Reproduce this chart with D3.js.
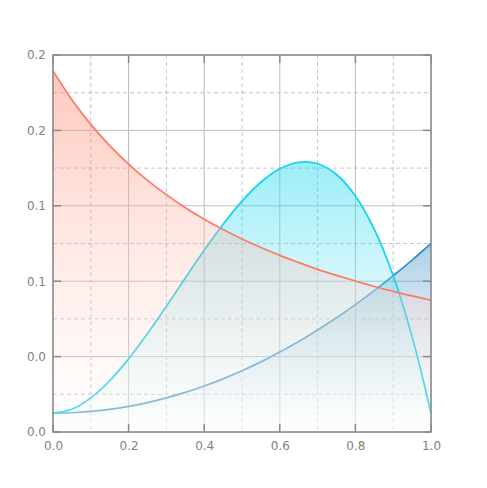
<!DOCTYPE html>
<html><head><meta charset="utf-8">
<script src="https://cdn.jsdelivr.net/npm/d3@7"></script>
<style>body{margin:0;background:#fff}svg{display:block}text{font-family:"DejaVu Sans",sans-serif}</style>
</head><body><svg id="c" width="487" height="488"></svg>
<script>
const xs = [0,0.05,0.1,0.15,0.2,0.25,0.3,0.35,0.4,0.45,0.5,0.55,0.6,0.65,0.7,0.75,0.8,0.85,0.9,0.95,1.0];
const redVals  = [0.1916,0.1763,0.1632,0.1519,0.1421,0.1335,0.1259,0.1190,0.1129,0.1074,0.1024,0.0979,0.0937,0.0899,0.0863,0.0831,0.0801,0.0772,0.0746,0.0722,0.0699];
const cyanVals = [0.0100,0.0121,0.0181,0.0272,0.0388,0.0522,0.0667,0.0817,0.0964,0.1102,0.1225,0.1325,0.1396,0.1431,0.1423,0.1366,0.1252,0.1075,0.0829,0.0506,0.0100];
const blueVals = [0.0100,0.0102,0.0109,0.0120,0.0136,0.0156,0.0181,0.0210,0.0244,0.0282,0.0325,0.0372,0.0424,0.0480,0.0541,0.0606,0.0676,0.0750,0.0829,0.0912,0.1000];
const seriesNames = ["blue","cyan","red"];
const seriesColors = ["#3a90c4","#10d4ee","#ff7a62"];
const xMajor = [0,0.2,0.4,0.6,0.8,1.0];
const xMinor = [0.1,0.3,0.5,0.7,0.9];
const yMajor = [0,0.04,0.08,0.12,0.16,0.2];
const yMinor = [0.02,0.06,0.10,0.14,0.18];
const xLabels = ["0.0","0.2","0.4","0.6","0.8","1.0"];
const yLabels = ["0.0","0.0","0.1","0.1","0.2","0.2"];

const svg = d3.select("#c");
const L=53, R=431, T=55, B=432;
const x = d3.scaleLinear().domain([0,1]).range([L,R]);
const y = d3.scaleLinear().domain([0,0.2]).range([B,T]);
const valsList = [blueVals,cyanVals,redVals];
const defs = svg.append("defs");
seriesNames.forEach((n,i)=>{
  const g = defs.append("linearGradient").attr("id","g"+n).attr("x1",0).attr("y1",0).attr("x2",0).attr("y2",1);
  g.append("stop").attr("offset","0").attr("stop-color",seriesColors[i]).attr("stop-opacity",0.42);
  g.append("stop").attr("offset","1").attr("stop-color","#ffffff").attr("stop-opacity",0.22);
});
const curve = d3.curveCatmullRom.alpha(0.5);
const line = d3.line().x((d,i)=>x(xs[i])).y(d=>y(d)).curve(curve);
const area = d3.area().x((d,i)=>x(xs[i])).y0(y(0)).y1(d=>y(d)).curve(curve);

// grid (beneath the series)
const grid = svg.append("g");
xMinor.forEach(v=>grid.append("line").attr("x1",x(v)).attr("x2",x(v)).attr("y1",T).attr("y2",B).attr("stroke","#c4c4c4").attr("stroke-dasharray","4,3"));
yMinor.forEach(v=>grid.append("line").attr("y1",y(v)).attr("y2",y(v)).attr("x1",L).attr("x2",R).attr("stroke","#c4c4c4").attr("stroke-dasharray","4,3"));
xMajor.forEach(v=>grid.append("line").attr("x1",x(v)).attr("x2",x(v)).attr("y1",T).attr("y2",B).attr("stroke","#bcbcbc"));
yMajor.forEach(v=>grid.append("line").attr("y1",y(v)).attr("y2",y(v)).attr("x1",L).attr("x2",R).attr("stroke","#bcbcbc"));

const gl = svg.append("g");
valsList.forEach((v,i)=>{
  gl.append("path").attr("d",area(v)).attr("fill","url(#g"+seriesNames[i]+")");
  gl.append("path").attr("d",line(v)).attr("fill","none").attr("stroke",seriesColors[i]).attr("stroke-width",1.7);
});
// ticks inward
const tk = svg.append("g").attr("stroke","#8a8a8a").attr("stroke-width",1.5);
xMajor.forEach(v=>{
  tk.append("line").attr("x1",x(v)).attr("x2",x(v)).attr("y1",B).attr("y2",B-8);
  tk.append("line").attr("x1",x(v)).attr("x2",x(v)).attr("y1",T).attr("y2",T+8);
});
yMajor.forEach(v=>{
  tk.append("line").attr("y1",y(v)).attr("y2",y(v)).attr("x1",L).attr("x2",L+8);
  tk.append("line").attr("y1",y(v)).attr("y2",y(v)).attr("x1",R).attr("x2",R-8);
});
svg.append("rect").attr("x",L).attr("y",T).attr("width",R-L).attr("height",B-T).attr("fill","none").attr("stroke","#8a8a8a").attr("stroke-width",1.5);
// labels
const xAxis = d3.axisBottom(x).tickValues(xMajor).tickFormat((d,i)=>xLabels[i]).tickSize(0).tickPadding(9);
const yAxis = d3.axisLeft(y).tickValues(yMajor).tickFormat((d,i)=>yLabels[i]).tickSize(0).tickPadding(7);
const gx = svg.append("g").attr("transform",`translate(0,${B})`).call(xAxis);
const gy = svg.append("g").attr("transform",`translate(${L},0)`).call(yAxis);
[gx,gy].forEach(g=>{
  g.select(".domain").remove();
  g.selectAll("text").attr("fill","#8a8076").style("font-size","12px").style("font-family","'DejaVu Sans',sans-serif");
});
</script></body></html>
